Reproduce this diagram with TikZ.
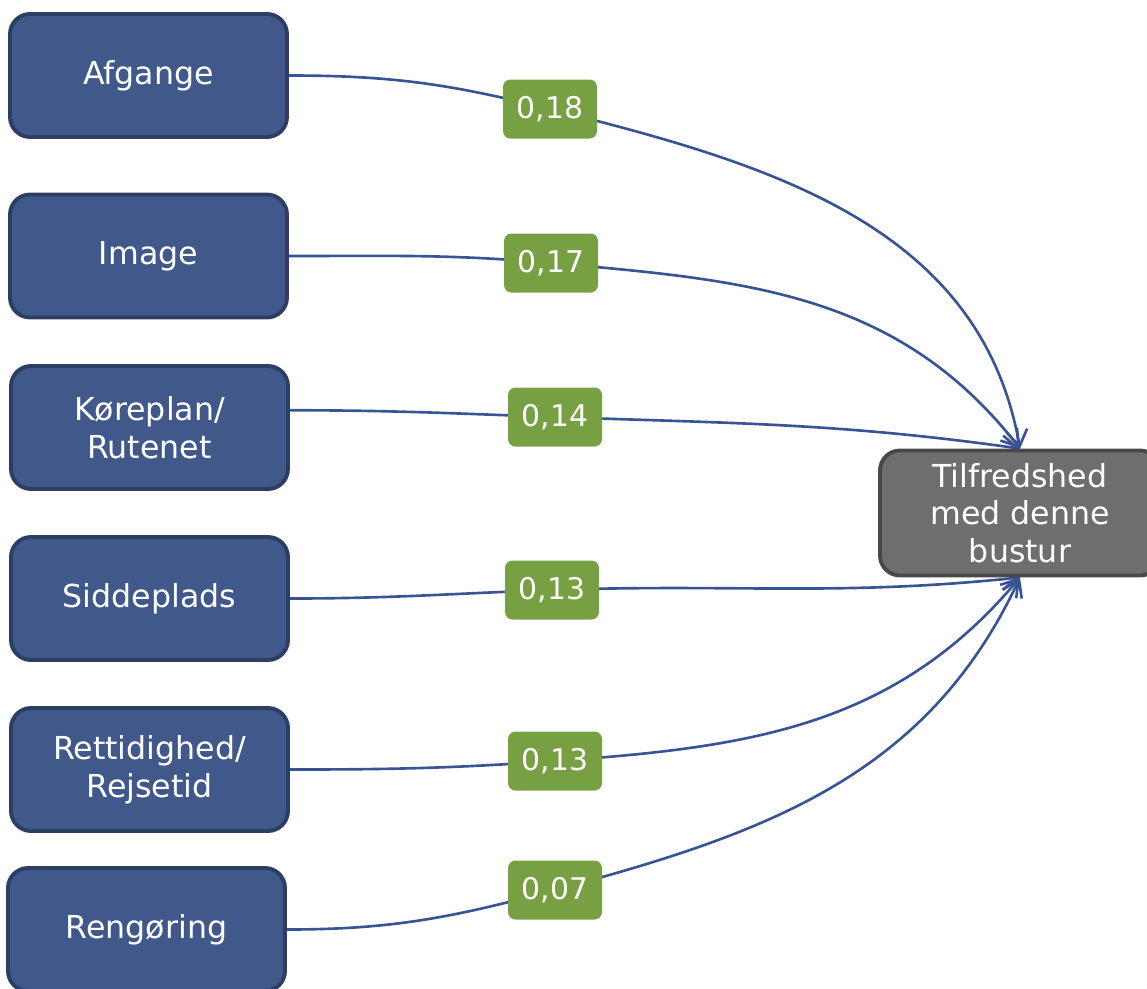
\documentclass[tikz,border=0pt]{standalone}
\usepackage{fontspec}
\setmainfont{DejaVu Sans}
\usetikzlibrary{positioning,arrows.meta,backgrounds}

\definecolor{boxblue}{RGB}{64,88,138}
\definecolor{boxedge}{RGB}{44,62,100}
\definecolor{linkblue}{RGB}{56,84,148}
\definecolor{wgreen}{RGB}{119,160,67}
\definecolor{boxgray}{RGB}{110,110,110}
\definecolor{grayedge}{RGB}{72,72,72}

\tikzset{
	factor/.style={draw=boxedge, line width=2.2pt, fill=boxblue, rounded corners=0.4cm,
		minimum width=5.54cm, minimum height=2.46cm, text=white, align=center,
		font=\fontsize{18}{21.5}\selectfont},
	outcome/.style={factor, draw=grayedge, fill=boxgray, minimum width=5.6cm, minimum height=2.5cm},
	weight/.style={fill=wgreen, rounded corners=0.15cm, minimum width=1.88cm,
		minimum height=1.18cm, text=white, font=\fontsize{17}{20}\selectfont},
	effect/.style={draw=linkblue, line width=1.5pt, -{Straight Barb[length=0.32cm,width=0.42cm]}}
}

\begin{document}
\begin{tikzpicture}
			\useasboundingbox (0,0) rectangle (22.94,-19.76);

			\node(afg) [factor] at (2.97,-1.51) {Afgange};
			\node(img) [factor] at (2.97,-5.12) {Image};
			\node(kor) [factor] at (2.99,-8.55) {Køreplan/\\Rutenet};
			\node(sid) [factor] at (2.99,-11.97) {Siddeplads};
			\node(ret) [factor] at (2.99,-15.39) {Rettidighed/\\Rejsetid};
			\node(ren) [factor] at (2.93,-18.59) {Rengøring};

			\node(tfr) [outcome] at (20.40,-10.26) {Tilfredshed\\med denne\\bustur};

			\node(w18) [weight] at (11.00,-2.18) {0,18};
			\node(w17) [weight] at (11.02,-5.26) {0,17};
			\node(w14) [weight] at (11.10,-8.34) {0,14};
			\node(w13a) [weight] at (11.04,-11.80) {0,13};
			\node(w13b) [weight] at (11.10,-15.22) {0,13};
			\node(w07) [weight] at (11.10,-17.80) {0,07};

			\begin{scope}[on background layer]
			\draw[effect] (afg.east) to[out=0,in=166] (w18.center) to[out=-14,in=100] (tfr.north);
			\draw[effect] (img.east) to[out=0,in=175] (w17.center) to[out=-5,in=128] (tfr.north);
			\draw[effect] (kor.7) to[out=0,in=178] (w14.center) to[out=-2,in=172] (tfr.north);
			\draw[effect] (sid.east) to[out=0,in=182] (w13a.center) to[out=2,in=186] (tfr.south);
			\draw[effect] (ret.east) to[out=0,in=184] (w13b.center) to[out=4,in=230] (tfr.south);
			\draw[effect] (ren.east) to[out=0,in=195] (w07.center) to[out=15,in=245] (tfr.south);
			\end{scope}
		\end{tikzpicture}
\end{document}
